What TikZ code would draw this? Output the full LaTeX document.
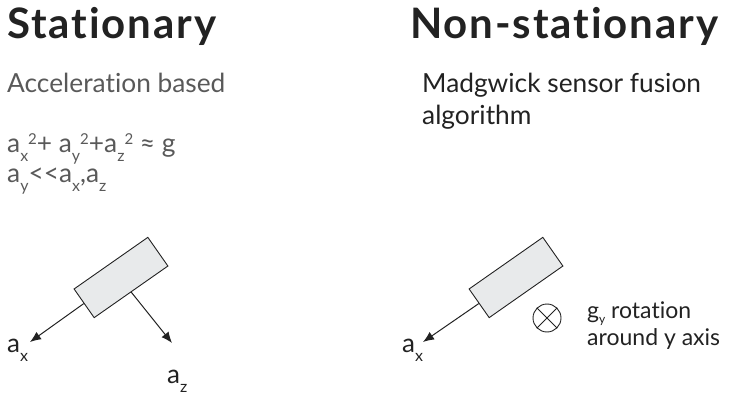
\documentclass[tikz,border=0pt]{standalone}
\usepackage{fontspec}
\setmainfont{Lato}[Ligatures={TeX,NoCommon}]
\usetikzlibrary{arrows.meta}

\definecolor{titlecol}{HTML}{222222}
\definecolor{graytext}{HTML}{595959}
\definecolor{boxfill}{HTML}{E8EAEB}

\newcommand{\lowidx}[1]{\raisebox{-9pt}{\fontsize{16}{16}\selectfont #1}}
\newcommand{\highidx}[1]{\raisebox{8pt}{\fontsize{15}{15}\selectfont #1}}

\begin{document}
\begin{tikzpicture}[x=1pt,y=-1pt,
  title/.style={anchor=base west,inner sep=0,text=titlecol,font=\fontsize{42}{50}\selectfont\bfseries\addfontfeatures{LetterSpace=4.5}},
  note/.style={anchor=base west,inner sep=0,text=graytext,font=\fontsize{26.3}{32}\selectfont},
  plain/.style={anchor=base west,inner sep=0,text=titlecol,font=\fontsize{26.3}{32}\selectfont},
  axlabel/.style={anchor=base west,inner sep=0,text=titlecol,font=\fontsize{26}{32}\selectfont},
  rotlabel/.style={anchor=base west,inner sep=0,text=titlecol,font=\fontsize{23}{27}\selectfont},
  sensor/.style={draw=titlecol,fill=boxfill,line width=0.9pt,minimum width=90pt,minimum height=35pt,inner sep=0,rotate=35},
  vec/.style={draw=titlecol,line width=1pt,-{Latex[length=11pt,width=9pt]}}
]
\useasboundingbox (0,0) rectangle (730,403);

% headings
\node[title] (stat) at (7,39) {Stationary};
\node[title] (nonstat) at (410,39) {Non-stationary};

% left column text
\node[note] (accel) at (7,93) {Acceleration based};
\node[note] (eqone) at (7,153) {a\lowidx{x}\highidx{2}+ a\lowidx{y}\highidx{2}+a\lowidx{z}\highidx{2} ≈ g};
\node[note] (eqtwo) at (7,183) {a\lowidx{y}<{}<a\lowidx{x},a\lowidx{z}};

% right column text
\node[plain] (algoA) at (422,93) {Madgwick sensor fusion};
\node[plain] (algoB) at (422,125) {algorithm};

% stationary sensor
\node[sensor] (sensL) at (121,277.5) {};
\coordinate (axL) at (30,342);
\coordinate (azL) at (172,343);
\draw[vec] (sensL.west) -- (axL);
\draw[vec] (sensL.south) -- (azL);
\node[axlabel] (axLlbl) at (7,352) {a\lowidx{x}};
\node[axlabel] (azLlbl) at (167,383) {a\lowidx{z}};

% non-stationary sensor
\node[sensor] (sensR) at (516,277.5) {};
\coordinate (axR) at (423,342);
\draw[vec] (sensR.west) -- (axR);
\node[axlabel] (axRlbl) at (402,352) {a\lowidx{x}};

% rotation into the page
\node[draw=titlecol,line width=0.9pt,circle,minimum size=28pt,inner sep=0] (rot) at (547,318) {};
\draw[titlecol,line width=0.9pt] (rot.45) -- (rot.225) (rot.135) -- (rot.315);
\node[rotlabel] (rotA) at (587,318) {g\raisebox{-5pt}{\fontsize{12}{12}\selectfont y} rotation};
\node[rotlabel] (rotB) at (587,345) {around y axis};
\end{tikzpicture}
\end{document}
